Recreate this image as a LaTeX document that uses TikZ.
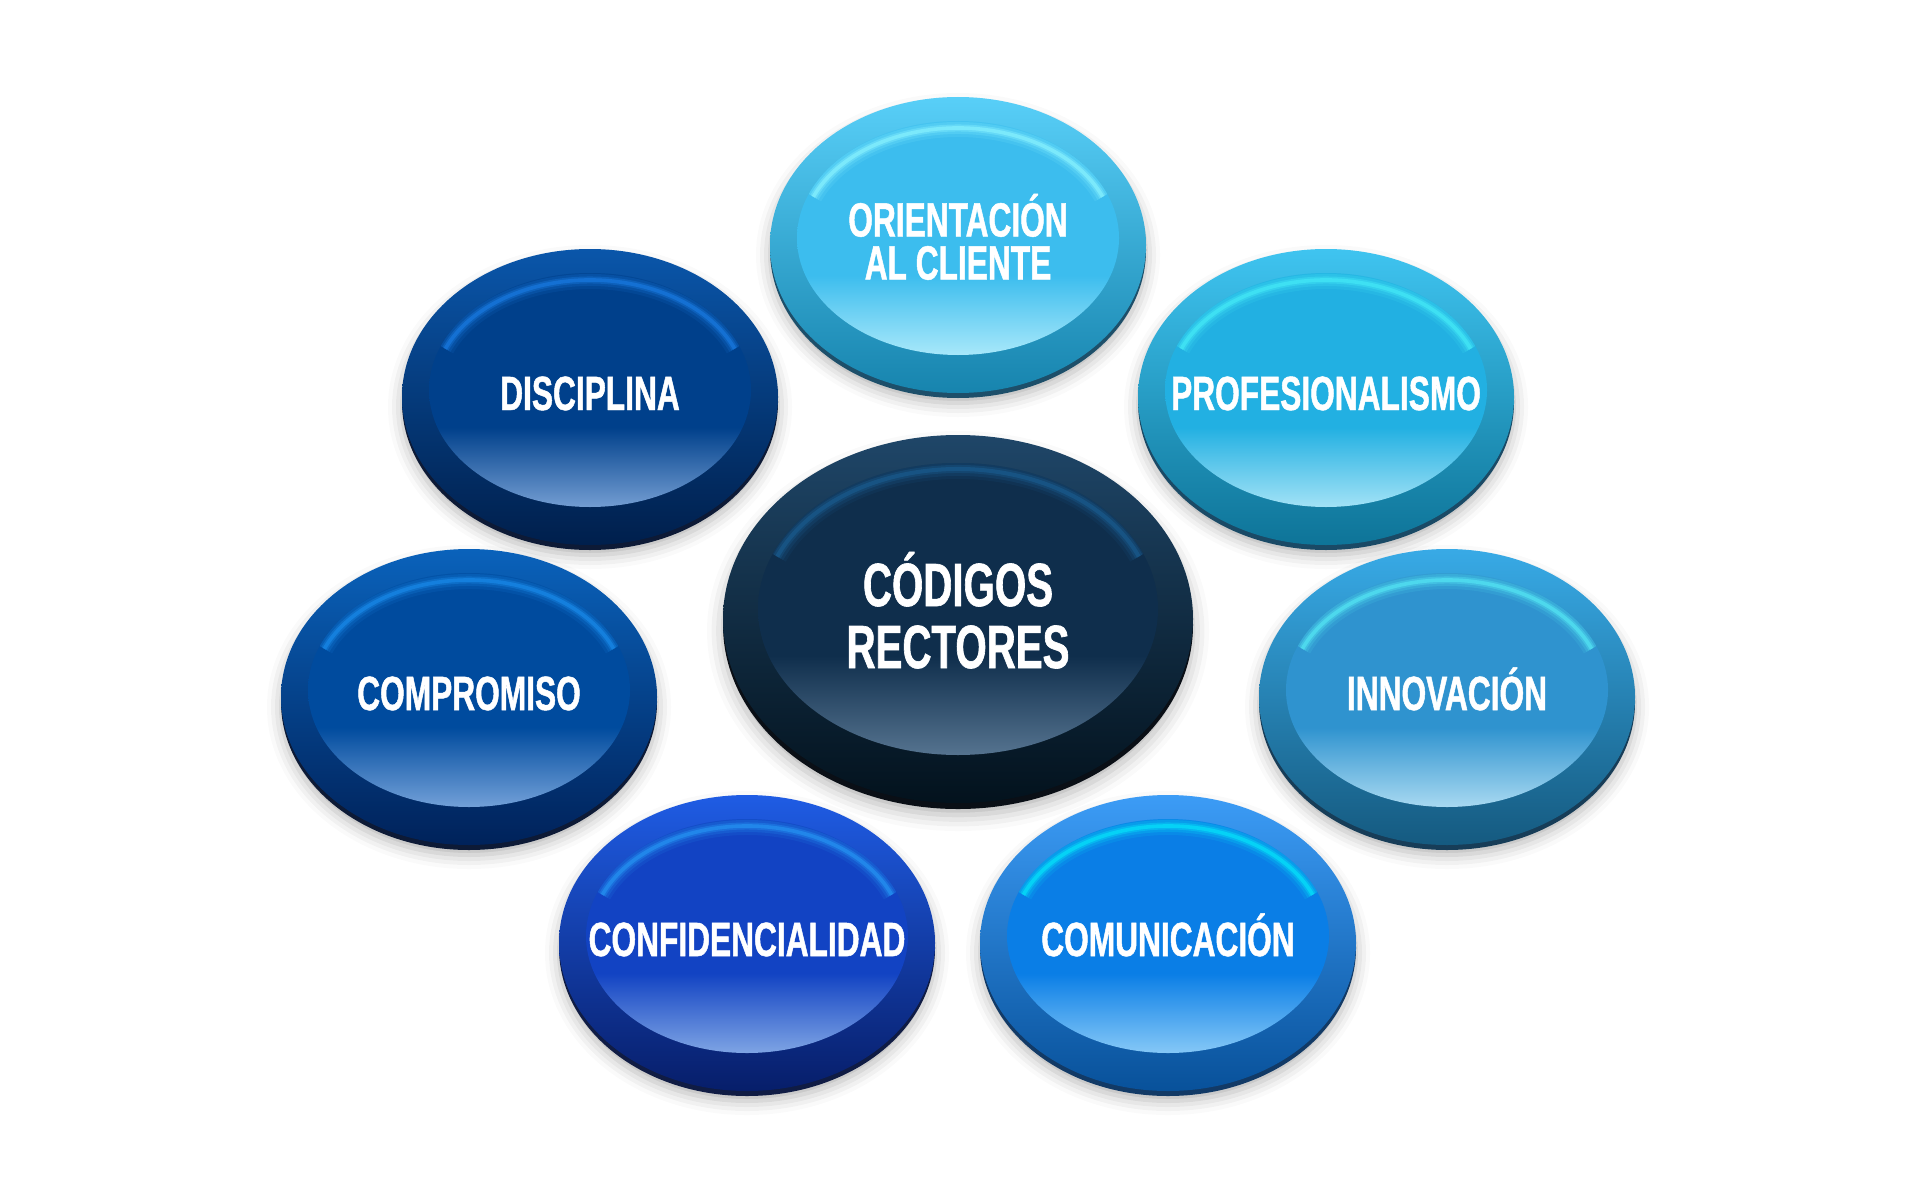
\documentclass[tikz,border=0pt]{standalone}
\usepackage{fontspec}
\newfontfamily\valorfont[FakeStretch=0.66, FakeBold=1]{Liberation Sans}
\usepackage{tikz}
\usetikzlibrary{positioning}
\usetikzlibrary{shapes.geometric}
\usetikzlibrary{shadows,shadows.blur}

\definecolor{oririmA}{HTML}{58CFF8}\definecolor{oririmB}{HTML}{1784AE}
\definecolor{orifaceA}{HTML}{3CBDEE}\definecolor{orifaceB}{HTML}{A8E8FA}
\definecolor{origlow}{HTML}{8AF4FF}\definecolor{oriedge}{HTML}{1D4F6A}
\definecolor{prorimA}{HTML}{3FC4F0}\definecolor{prorimB}{HTML}{0E7498}
\definecolor{profaceA}{HTML}{22B0E2}\definecolor{profaceB}{HTML}{A2E2F6}
\definecolor{proglow}{HTML}{45ECF8}\definecolor{proedge}{HTML}{1A4A66}
\definecolor{innrimA}{HTML}{38AAE6}\definecolor{innrimB}{HTML}{155A80}
\definecolor{innfaceA}{HTML}{2F93CF}\definecolor{innfaceB}{HTML}{A8D9F1}
\definecolor{innglow}{HTML}{55E8F5}\definecolor{innedge}{HTML}{173D58}
\definecolor{comrimA}{HTML}{3C9CF6}\definecolor{comrimB}{HTML}{08519A}
\definecolor{comfaceA}{HTML}{0A7EE6}\definecolor{comfaceB}{HTML}{85C8F7}
\definecolor{comglow}{HTML}{05E6FA}\definecolor{comedge}{HTML}{123A66}
\definecolor{conrimA}{HTML}{1F5CE4}\definecolor{conrimB}{HTML}{071E6A}
\definecolor{confaceA}{HTML}{1243C3}\definecolor{confaceB}{HTML}{7EA4E4}
\definecolor{conglow}{HTML}{2596F4}\definecolor{conedge}{HTML}{101C44}
\definecolor{cmprimA}{HTML}{0A62BB}\definecolor{cmprimB}{HTML}{00225A}
\definecolor{cmpfaceA}{HTML}{004B9E}\definecolor{cmpfaceB}{HTML}{72A0D8}
\definecolor{cmpglow}{HTML}{1A8CEC}\definecolor{cmpedge}{HTML}{0D1A36}
\definecolor{disrimA}{HTML}{0A56AA}\definecolor{disrimB}{HTML}{001F4C}
\definecolor{disfaceA}{HTML}{00408B}\definecolor{disfaceB}{HTML}{739DD2}
\definecolor{disglow}{HTML}{1A7CE4}\definecolor{disedge}{HTML}{0D1A36}
\definecolor{codrimA}{HTML}{1F4668}\definecolor{codrimB}{HTML}{03121D}
\definecolor{codfaceA}{HTML}{0F2E4C}\definecolor{codfaceB}{HTML}{55738F}
\definecolor{codglow}{HTML}{1A5D90}\definecolor{codedge}{HTML}{0A0F16}

\colorlet{facetop}{black}\colorlet{facebot}{white}
\pgfdeclareverticalshading[facetop,facebot]{cara}{100bp}{color(0bp)=(facebot); color(25bp)=(facebot);
  color(42bp)=(facetop); color(75bp)=(facetop); color(100bp)=(facetop)}

\begin{document}
\begin{tikzpicture}[x=0.5pt, y=-0.5pt,
valor/.style={ellipse, inner xsep=-60pt, inner ysep=0pt, minimum width=188pt, minimum height=148pt,
  blur shadow={shadow xshift=0pt, shadow yshift=-5pt, shadow blur radius=7pt, shadow opacity=30},
  general shadow={shadow yshift=-2.5pt, fill=#1edge},
  top color=#1rimA, bottom color=#1rimB,
  text=white, align=center, text height=17pt, text depth=4pt,
  font=\valorfont\bfseries\fontsize{24}{21.5}\selectfont,
  path picture={
    \coordinate (fc) at ([yshift=3.5pt]path picture bounding box.center);
    \path[clip] (fc) ellipse [x radius=80.5pt, y radius=58.5pt];
    \colorlet{facetop}{#1faceA}\colorlet{facebot}{#1faceB}
    \shade[shading=cara] (fc) ellipse [x radius=80.5pt, y radius=58.5pt];
    \foreach \w/\o in {9/.12, 6/.2, 3.5/.35, 1.8/.6}
      \draw[#1glow, line width=\w pt, opacity=\o] (fc) ++(158:78pt and 55pt)
        arc [start angle=158, end angle=22, x radius=78pt, y radius=55pt];
  }},
nucleo/.style={ellipse, inner xsep=-60pt, inner ysep=0pt, minimum width=235pt, minimum height=184pt,
  blur shadow={shadow xshift=0pt, shadow yshift=-6pt, shadow blur radius=8pt, shadow opacity=30},
  general shadow={shadow yshift=-3pt, fill=#1edge},
  top color=#1rimA, bottom color=#1rimB,
  text=white, align=center, text height=53pt, text depth=4pt,
  font=\valorfont\bfseries\fontsize{30.5}{31}\selectfont,
  path picture={
    \coordinate (fc) at ([yshift=5pt]path picture bounding box.center);
    \path[clip] (fc) ellipse [x radius=100pt, y radius=73pt];
    \colorlet{facetop}{#1faceA}\colorlet{facebot}{#1faceB}
    \shade[shading=cara] (fc) ellipse [x radius=100pt, y radius=73pt];
    \foreach \w/\o in {10/.12, 7/.2, 4/.35, 2/.6}
      \draw[#1glow, line width=\w pt, opacity=\o] (fc) ++(158:97.5pt and 70pt)
        arc [start angle=158, end angle=22, x radius=97.5pt, y radius=70pt];
  }},
]
\useasboundingbox (0,0) rectangle (1920,1177);

%Nodes
\node[nucleo=cod]   (cod)   at (958,619)  {CÓDIGOS\\RECTORES};
\node[valor=ori, text height=38.5pt] (ori) at (958,245) {ORIENTACIÓN\\AL CLIENTE};
\node[valor=dis]    (dis)   at (590,397)  {DISCIPLINA};
\node[valor=pro]    (pro)   at (1326,397) {PROFESIONALISMO};
\node[valor=cmp]    (cmp)   at (469,697)  {COMPROMISO};
\node[valor=inn]    (inn)   at (1447,697) {INNOVACIÓN};
\node[valor=con]    (con)   at (747,943)  {CONFIDENCIALIDAD};
\node[valor=com]    (com)   at (1168,943) {COMUNICACIÓN};
\end{tikzpicture}
\end{document}
